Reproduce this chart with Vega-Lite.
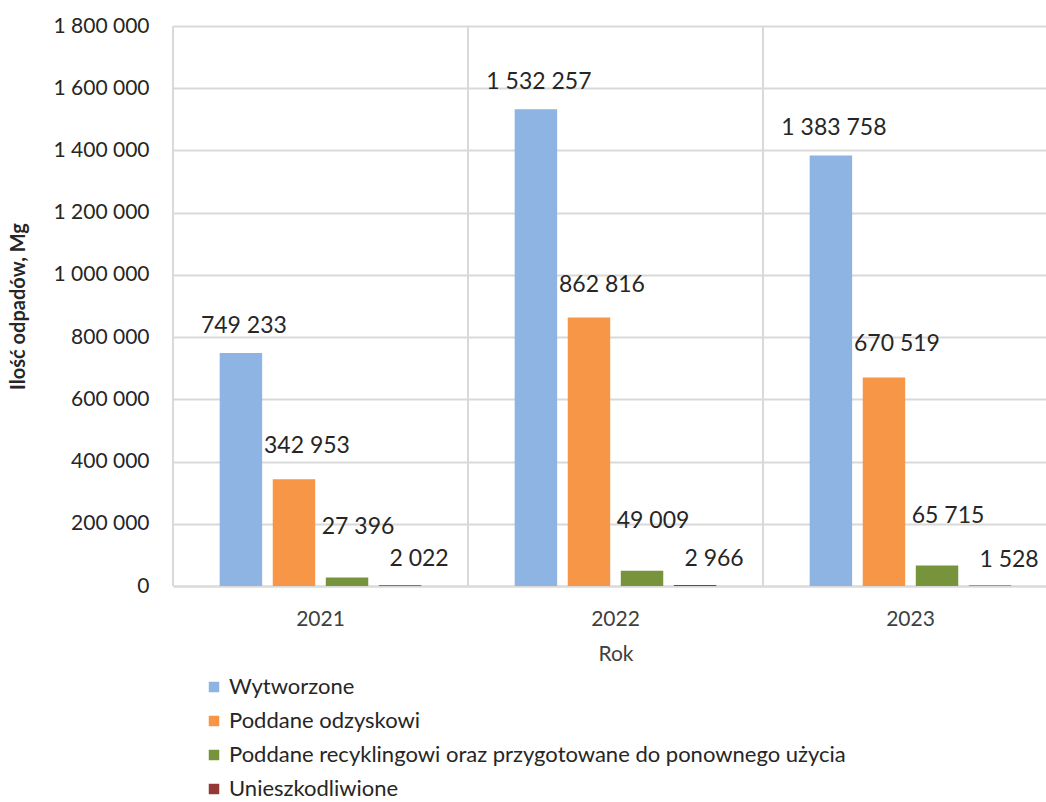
{
  "$schema": "https://vega.github.io/schema/vega-lite/v6.json",
  "autosize": "none",
  "width": 885,
  "height": 560,
  "padding": {"left": 173, "top": 26, "right": 0, "bottom": 216},
  "background": "white",
  "config": {
    "locale": {"number": {"decimal": ",", "thousands": " ", "grouping": [3], "currency": ["", " zł"]}},
    "font": "Lato",
    "view": {"stroke": null}
  },
  "data": {
    "values": [
      {"year": "2021", "series": "Wytworzone", "value": 749233},
      {"year": "2021", "series": "Poddane odzyskowi", "value": 342953},
      {"year": "2021", "series": "Poddane recyklingowi oraz przygotowane do ponownego użycia", "value": 27396},
      {"year": "2021", "series": "Unieszkodliwione", "value": 2022},
      {"year": "2022", "series": "Wytworzone", "value": 1532257},
      {"year": "2022", "series": "Poddane odzyskowi", "value": 862816},
      {"year": "2022", "series": "Poddane recyklingowi oraz przygotowane do ponownego użycia", "value": 49009},
      {"year": "2022", "series": "Unieszkodliwione", "value": 2966},
      {"year": "2023", "series": "Wytworzone", "value": 1383758},
      {"year": "2023", "series": "Poddane odzyskowi", "value": 670519},
      {"year": "2023", "series": "Poddane recyklingowi oraz przygotowane do ponownego użycia", "value": 65715},
      {"year": "2023", "series": "Unieszkodliwione", "value": 1528}
    ]
  },
  "encoding": {
    "x": {
      "field": "year", "type": "nominal",
      "scale": {"paddingInner": 0, "paddingOuter": 0},
      "axis": {
        "title": "Rok", "titleFontSize": 21, "titleFontWeight": "normal", "titleColor": "#404040", "titlePadding": 14,
        "labelAngle": 0, "labelFontSize": 21, "labelColor": "#404040", "labelPadding": 22,
        "ticks": false, "grid": false, "domainColor": "#D9D9D9", "domainWidth": 2
      }
    },
    "y": {
      "field": "value", "type": "quantitative",
      "scale": {"domain": [0, 1800000], "nice": false},
      "axis": {
        "title": "Ilość odpadów, Mg", "titleFontSize": 20, "titleFontWeight": "bold", "titleColor": "#262626", "titlePadding": 24,
        "values": [0, 200000, 400000, 600000, 800000, 1000000, 1200000, 1400000, 1600000, 1800000],
        "format": ",d", "labelFontSize": 21, "labelColor": "#262626", "labelPadding": 24,
        "ticks": false, "domain": false, "gridColor": "#D9D9D9", "gridWidth": 2
      }
    },
    "xOffset": {"field": "series", "type": "nominal", "sort": null, "scale": {"paddingInner": 0.2, "paddingOuter": 0.88}}
  },
  "layer": [
    {
      "mark": {"type": "rule", "color": "#D9D9D9", "strokeWidth": 2},
      "encoding": {"x": {"field": "year", "type": "nominal", "bandPosition": 0}, "y": null, "xOffset": null}
    },
    {
      "mark": {"type": "bar"},
      "encoding": {
        "color": {
          "field": "series", "type": "nominal", "sort": null,
          "scale": {
            "domain": ["Wytworzone", "Poddane odzyskowi", "Poddane recyklingowi oraz przygotowane do ponownego użycia", "Unieszkodliwione"],
            "range": ["#8EB4E3", "#F79646", "#77933C", "#953735"]
          },
          "legend": {
            "title": null, "orient": "none", "legendX": 30, "legendY": 650,
            "symbolType": "square", "symbolSize": 110, "symbolStrokeWidth": 0,
            "labelFontSize": 22, "labelColor": "#262626", "rowPadding": 12, "labelLimit": 900
          }
        }
      }
    },
    {
      "transform": [{"filter": "datum.series === 'Wytworzone'"}],
      "mark": {"type": "text", "fontSize": 23, "color": "#262626", "dy": -27, "dx": 3, "baseline": "middle"},
      "encoding": {"text": {"field": "value", "type": "quantitative", "format": ",d"}}
    },
    {
      "transform": [{"filter": "datum.series === 'Poddane odzyskowi'"}],
      "mark": {"type": "text", "fontSize": 23, "color": "#262626", "dy": -33, "dx": 13, "baseline": "middle"},
      "encoding": {"text": {"field": "value", "type": "quantitative", "format": ",d"}}
    },
    {
      "transform": [{"filter": "datum.series === 'Poddane recyklingowi oraz przygotowane do ponownego użycia'"}],
      "mark": {"type": "text", "fontSize": 23, "color": "#262626", "dy": -50, "dx": 11, "baseline": "middle"},
      "encoding": {"text": {"field": "value", "type": "quantitative", "format": ",d"}}
    },
    {
      "transform": [{"filter": "datum.series === 'Unieszkodliwione'"}],
      "mark": {"type": "text", "fontSize": 23, "color": "#262626", "dy": -26, "dx": 19, "baseline": "middle"},
      "encoding": {"text": {"field": "value", "type": "quantitative", "format": ",d"}}
    }
  ]
}
